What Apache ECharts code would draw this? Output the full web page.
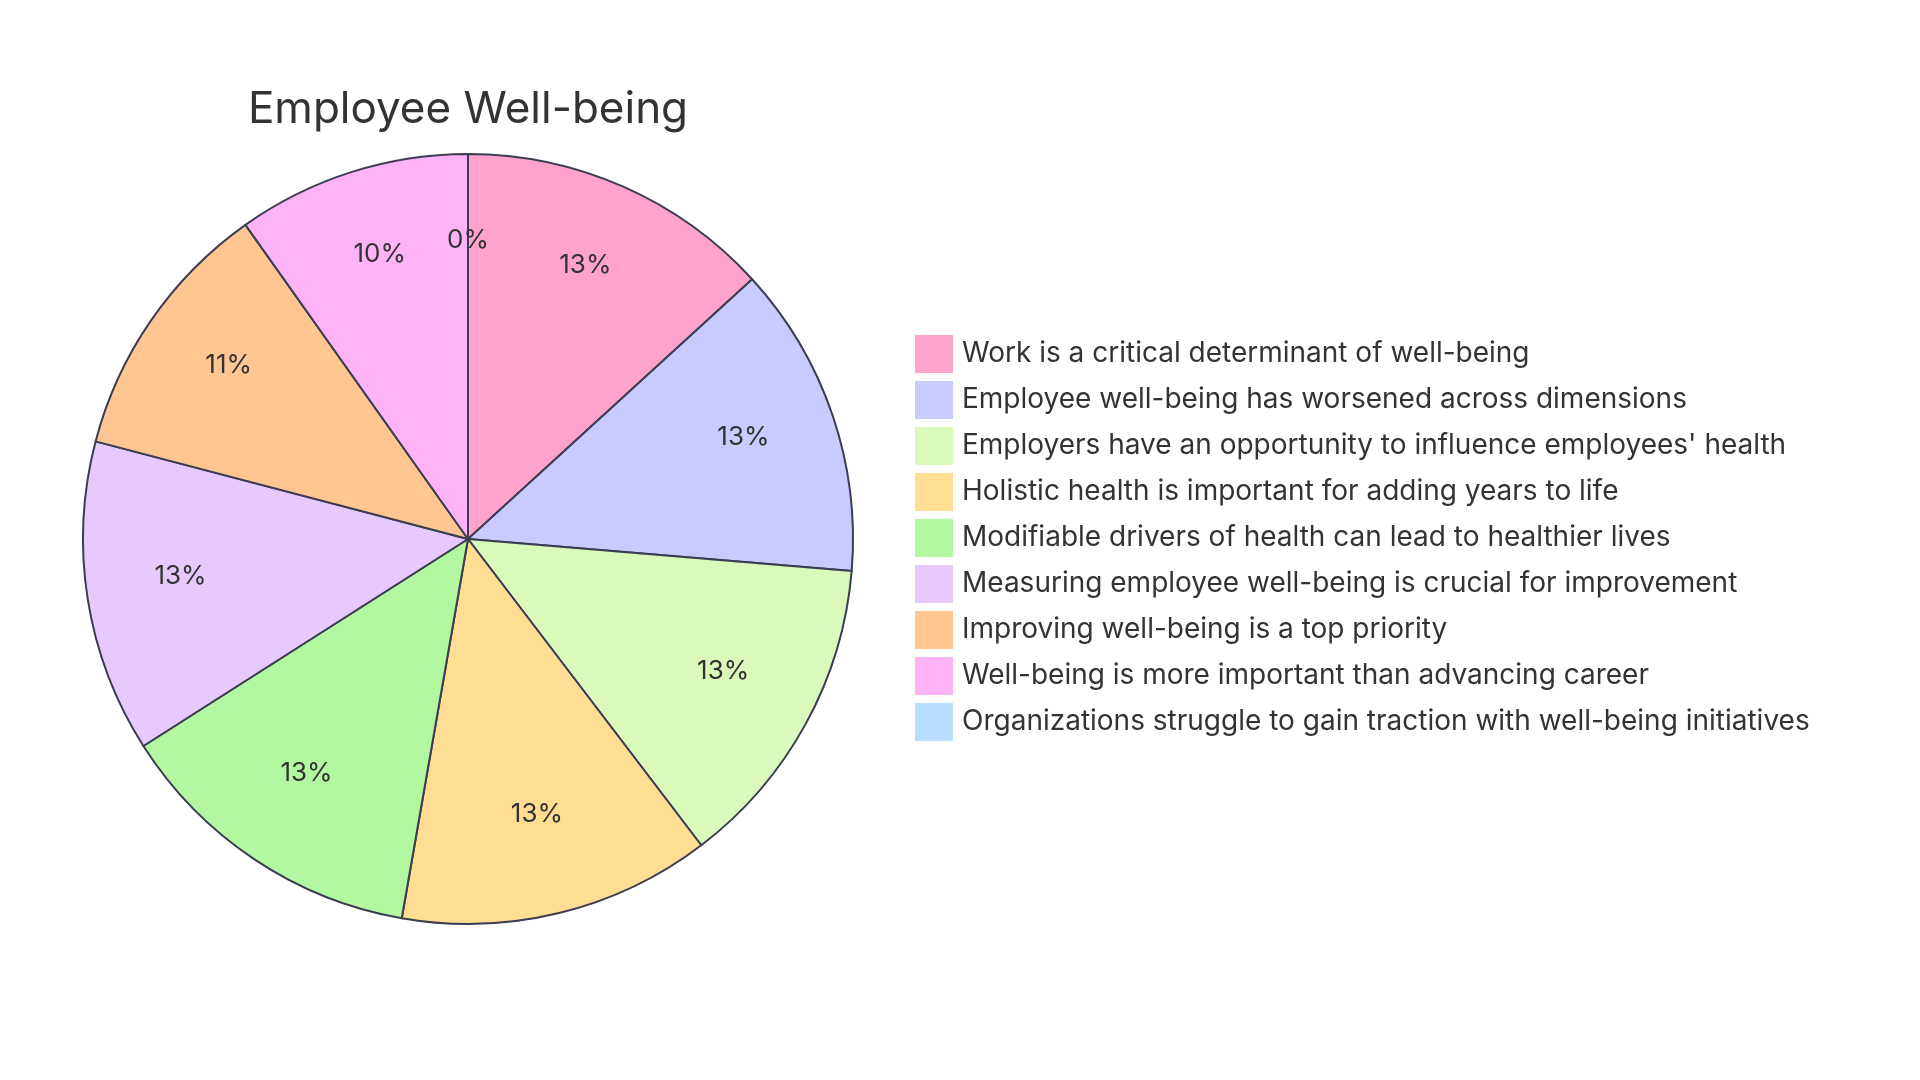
<!DOCTYPE html>
<html>
<head>
<meta charset="utf-8">
<script src="https://cdn.jsdelivr.net/npm/echarts@6/dist/echarts.min.js"></script>
<style>html,body{margin:0;padding:0;background:#fff}#c{width:1920px;height:1080px}</style>
</head>
<body>
<div id="c"></div>
<script>
const titleText = 'Employee Well-being';
const categories = [
  'Work is a critical determinant of well-being',
  'Employee well-being has worsened across dimensions',
  "Employers have an opportunity to influence employees' health",
  'Holistic health is important for adding years to life',
  'Modifiable drivers of health can lead to healthier lives',
  'Measuring employee well-being is crucial for improvement',
  'Improving well-being is a top priority',
  'Well-being is more important than advancing career',
  'Organizations struggle to gain traction with well-being initiatives'
];
const values = [13.2, 13.1, 13.3, 13.1, 13.2, 13.1, 11.1, 9.8, 0];
const colors = ['#FFA3CD', '#C9CBFE', '#DBF9BB', '#FFDE94', '#B3F8A0', '#E6CAFD', '#FFC691', '#FFB3F7', '#B7DEFF'];

const total = values.reduce((a, b) => a + b, 0);
const FONT = 'Inter';
const data = categories.map((n, i) => ({ name: n, value: values[i], itemStyle: { color: colors[i] } }));

const chart = echarts.init(document.getElementById('c'));
chart.setOption({
  animation: false,
  title: {
    text: titleText, left: 463, top: 83, textAlign: 'center',
    textStyle: { fontFamily: FONT, fontSize: 44, fontWeight: 'normal', color: '#333' }
  },
  legend: {
    orient: 'vertical', left: 910, top: 330,
    itemWidth: 38, itemHeight: 38, itemGap: 8,
    icon: 'rect',
    data: categories,
    selectedMode: false,
    itemStyle: { borderWidth: 0 },
    textStyle: { fontFamily: FONT, fontSize: 28, color: '#333', padding: [0, 0, 0, 4] }
  },
  series: [
    {
      type: 'pie', center: [468, 539], radius: [0, 385],
      startAngle: 90, clockwise: true,
      data: data,
      label: { show: false }, labelLine: { show: false },
      itemStyle: { borderColor: '#3c3c52', borderWidth: 2 },
      emphasis: { disabled: true }
    },
    {
      type: 'pie', center: [468, 539], radius: [191, 385],
      startAngle: 90, clockwise: true, silent: true,
      data: categories.map((n, i) => ({ name: n, value: values[i] })),
      itemStyle: { color: 'rgba(0,0,0,0)', borderWidth: 0 },
      label: {
        show: true, position: 'inside',
        fontFamily: FONT, fontSize: 26, color: '#333',
        offset: [0, -8],
        formatter: p => Math.round(p.value / total * 100) + '%'
      },
      labelLine: { show: false },
      emphasis: { disabled: true }
    }
  ]
});
</script>
</body>
</html>
